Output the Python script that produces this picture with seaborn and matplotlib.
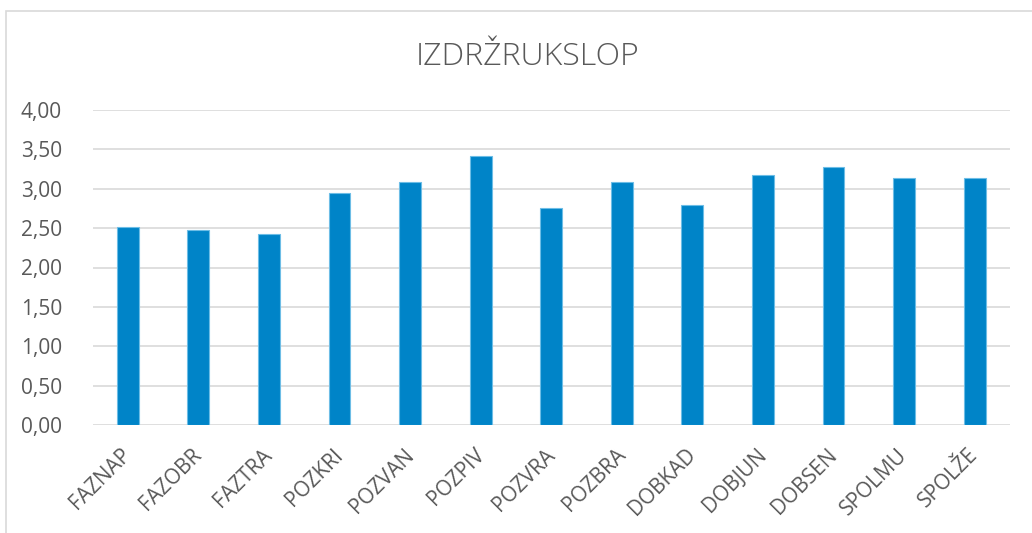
import matplotlib
matplotlib.use("Agg")
import matplotlib.pyplot as plt
import matplotlib.transforms as mtransforms
import seaborn as sns
import pandas as pd
from matplotlib.patches import Rectangle
from matplotlib.ticker import FuncFormatter

categories = ["FAZNAP", "FAZOBR", "FAZTRA", "POZKRI", "POZVAN", "POZPIV", "POZVRA",
              "POZBRA", "DOBKAD", "DOBJUN", "DOBSEN", "SPOLMU", "SPOLŽE"]
values = [2.52, 2.47, 2.42, 2.95, 3.09, 3.42, 2.76, 3.09, 2.80, 3.18, 3.28, 3.14, 3.14]
title = "IZDRŽRUKSLOP"
yticks = [0.0, 0.5, 1.0, 1.5, 2.0, 2.5, 3.0, 3.5, 4.0]

sns.set_theme(style="white")
plt.rcParams["font.family"] = ["Open Sans", "DejaVu Sans"]

df = pd.DataFrame({"kat": categories, "val": values})

fig = plt.figure(figsize=(10.32, 5.33), dpi=100)
ax = fig.add_axes([92.5 / 1032, 1 - 425 / 533, (1010 - 92.5) / 1032, (425 - 110) / 533])

sns.barplot(data=df, x="kat", y="val", ax=ax, color="#0084C8", width=0.31,
            saturation=1, edgecolor="#6DBDE6", linewidth=0.8, zorder=3)

ax.set_ylim(0, 4)
ax.set_yticks(yticks)
ax.yaxis.set_major_formatter(FuncFormatter(lambda v, p: f"{v:.2f}".replace(".", ",")))
ax.grid(axis="y", color="#D9D9D9", linewidth=1.2, zorder=0)
ax.set_axisbelow(True)
for s in ax.spines.values():
    s.set_visible(False)
ax.set_xlabel("")
ax.set_ylabel("")
ax.tick_params(axis="y", labelsize=15, colors="#595959", length=0, pad=22)
ax.tick_params(axis="x", labelsize=15, colors="#595959", length=0, pad=14)
shift = mtransforms.ScaledTranslation(-7 / 100, 0, fig.dpi_scale_trans)
for lbl in ax.get_xticklabels():
    lbl.set_rotation(45)
    lbl.set_ha("right")
    lbl.set_rotation_mode("anchor")
    lbl.set_transform(lbl.get_transform() + shift)

fig.text(528 / 1032, 1 - 57 / 533, title, ha="center", va="center",
         fontsize=23, color="#595959", fontweight="light")

# chart area border
fig.patches.append(Rectangle((5.5 / 1032, -0.05), 1.2, 1 - 11 / 533 + 0.05,
                             transform=fig.transFigure, fill=False,
                             edgecolor="#D9D9D9", linewidth=1.2))

fig.savefig("out.png", dpi=100, facecolor="white")
